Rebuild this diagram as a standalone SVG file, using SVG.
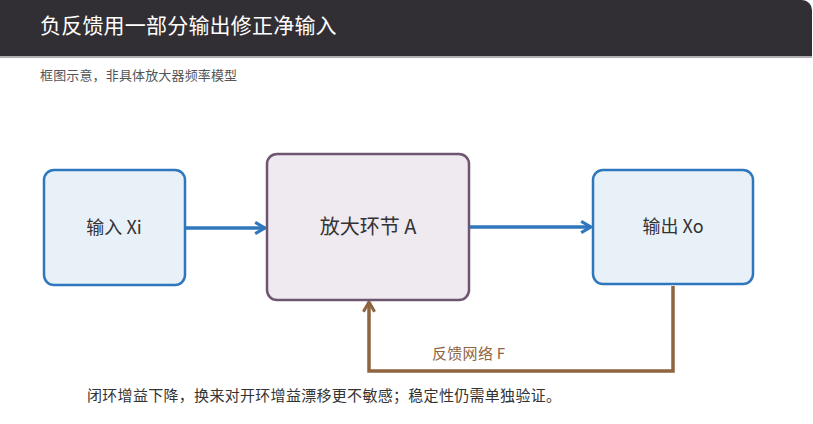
<svg xmlns="http://www.w3.org/2000/svg" width="813" height="424" viewBox="0 0 813 424">
<style>
text{font-family:"Noto Sans CJK SC","Liberation Sans",sans-serif}
.title{fill:#ffffff;font-size:21px;letter-spacing:0.2px}
.sub{fill:#555555;font-size:13px;letter-spacing:0.15px}
.io rect{fill:#e9f1f8;stroke:#2f77bd;stroke-width:2.5}
.amp rect{fill:#efe9f0;stroke:#6e5670;stroke-width:2.5}
.lbl{fill:#333333;font-size:18px;text-anchor:middle}
.fwd{stroke:#2f77bd;stroke-width:3.5;fill:none}
.fb{stroke:#8f6440;stroke-width:3.5;fill:none}
.fbl{fill:#8f6440;font-size:15px;letter-spacing:0.3px}
.note{fill:#333333;font-size:15px;letter-spacing:0.3px}
</style>
<defs>
<marker id="ab" viewBox="0 0 10 10" refX="8" refY="5" markerWidth="4" markerHeight="4" orient="auto" markerUnits="strokeWidth">
<path d="M1,1 L8,5 L1,9" fill="none" stroke="#2f77bd" stroke-width="2.2"/>
</marker>
<marker id="ar" viewBox="0 0 10 10" refX="8" refY="5" markerWidth="4" markerHeight="4" orient="auto" markerUnits="strokeWidth">
<path d="M1,1 L8,5 L1,9" fill="none" stroke="#8f6440" stroke-width="2.2"/>
</marker>
</defs>
<rect width="813" height="424" fill="#ffffff"/>
<path d="M0,0 H802 A10,10 0 0 1 812,10 V56 H0 Z" fill="#322f34"/>
<rect x="0" y="56" width="812" height="2" fill="#b0aeb0"/>
<text class="title" x="40" y="33">负反馈用一部分输出修正净输入</text>
<text class="sub" x="40" y="80">框图示意，非具体放大器频率模型</text>
<g id="connectors">
<line class="fwd" x1="186" y1="228" x2="265" y2="228" marker-end="url(#ab)"/>
<line class="fwd" x1="470" y1="227" x2="591" y2="227" marker-end="url(#ab)"/>
<polyline class="fb" points="673,286 673,371 369,371 369,302" marker-end="url(#ar)"/>
<text class="fbl" x="432" y="359">反馈网络 F</text>
</g>
<g id="input" class="io">
<rect x="44" y="170" width="141" height="115" rx="10"/>
<text class="lbl" x="114" y="234">输入 Xi</text>
</g>
<g id="amp" class="amp">
<rect x="267" y="154" width="202" height="146" rx="10"/>
<text class="lbl" x="368" y="234" style="font-size:20px">放大环节 A</text>
</g>
<g id="output" class="io">
<rect x="593" y="170" width="160" height="114" rx="10"/>
<text class="lbl" x="673" y="233">输出 Xo</text>
</g>
<text class="note" x="87" y="401">闭环增益下降，换来对开环增益漂移更不敏感；稳定性仍需单独验证。</text>
</svg>
